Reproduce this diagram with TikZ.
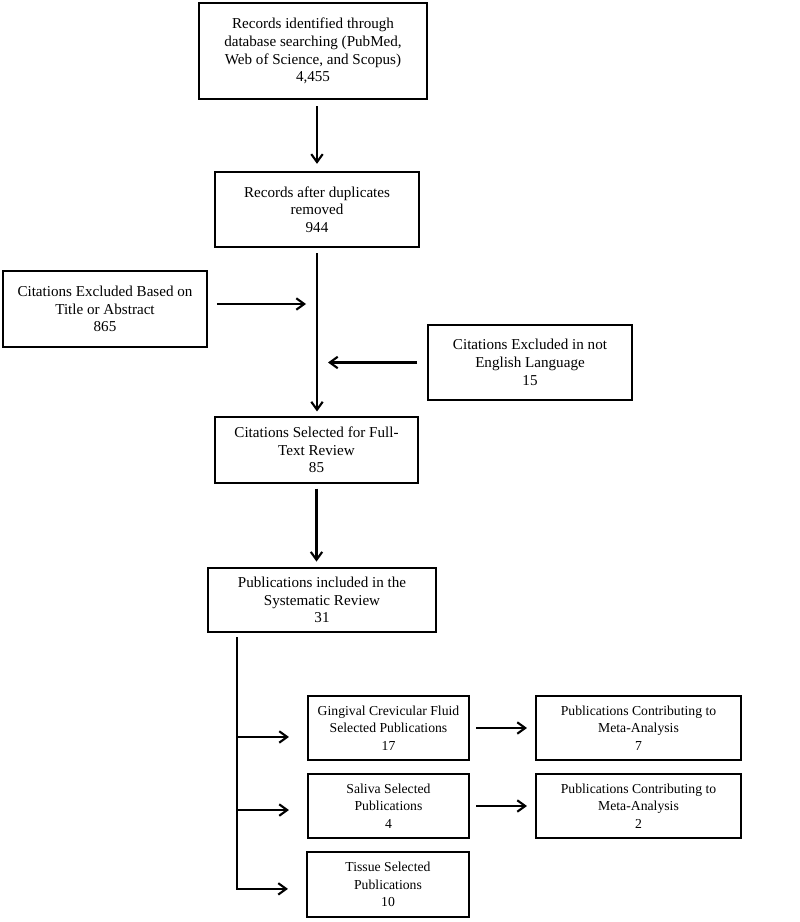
\documentclass[tikz,border=0pt]{standalone}
\usepackage{fontspec}
\setmainfont{Liberation Serif}
\usetikzlibrary{arrows.meta}

\begin{document}
\begin{tikzpicture}[x=0.02cm,y=-0.02cm,
box/.style={draw,line width=1.3pt,align=center,inner sep=2pt,font=\fontsize{8.6}{10.1}\selectfont},
subbox/.style={box,font=\fontsize{7.8}{10.1}\selectfont},
arr/.style={line width=1.2pt,-{Straight Barb[length=4.5pt,width=6.5pt]}}]
\useasboundingbox(0,0)rectangle(800,922);
\node[box,minimum width=4.56cm,minimum height=1.92cm](ident)at(313,51){Records identified through\\database searching (PubMed,\\Web of Science, and Scopus)\\4,455};
\node[box,minimum width=4.08cm,minimum height=1.5cm](dup)at(317,209.5){Records after duplicates\\removed\\944};
\node[box,minimum width=4.08cm,minimum height=1.52cm](titab)at(105,309){Citations Excluded Based on\\Title or Abstract\\865};
\node[box,minimum width=4.08cm,minimum height=1.5cm](lang)at(530,362.5){Citations Excluded in not\\English Language\\15};
\node[box,minimum width=4.06cm,minimum height=1.32cm](full)at(316.5,450){Citations Selected for Full-\\Text Review\\85};
\node[box,minimum width=4.56cm,minimum height=1.28cm](incl)at(322,600){Publications included in the\\Systematic Review\\31};
\node[subbox,minimum width=3.22cm,minimum height=1.28cm](gcf)at(388.5,728){Gingival Crevicular Fluid\\Selected Publications\\17};
\node[subbox,minimum width=3.22cm,minimum height=1.28cm](sal)at(388.5,806){Saliva Selected\\Publications\\4};
\node[subbox,minimum width=3.24cm,minimum height=1.3cm](tis)at(388,884.5){Tissue Selected\\Publications\\10};
\node[subbox,minimum width=4.1cm,minimum height=1.28cm](metaA)at(638.5,728){Publications Contributing to\\Meta-Analysis\\7};
\node[subbox,minimum width=4.1cm,minimum height=1.28cm](metaB)at(638.5,806){Publications Contributing to\\Meta-Analysis\\2};
\coordinate(inL)at(306,304);
\coordinate(inR)at(328,362);
\coordinate(br)at(237,637);
\draw[arr,shorten <=3.4pt,shorten >=4pt](ident.south -| dup.north)--(dup.north);
\draw[arr,shorten <=2.8pt,shorten >=2.5pt](dup.south)--(dup.south |- full.north);
\draw[arr,shorten <=5pt](titab.east |- inL)--(inL);
\draw[arr,shorten <=5.6pt](lang.west)--(lang.west -| inR);
\draw[arr,shorten <=2.5pt,shorten >=3pt](full.south)--(full.south |- incl.north);
\draw[arr,shorten >=10.2pt](br)|-([yshift=-2.5pt]tis.west);
\foreach \b/\s in {gcf/5.1pt,sal/2.3pt}
\draw[arr,shorten >=10.2pt]([yshift=-\s]br |- \b.west)--([yshift=-\s]\b.west);
\draw[arr,shorten <=3.4pt,shorten >=4.5pt](gcf.east)--(metaA.west);
\draw[arr,shorten <=3.4pt,shorten >=4.5pt](sal.east)--(metaB.west);
\end{tikzpicture}
\end{document}
